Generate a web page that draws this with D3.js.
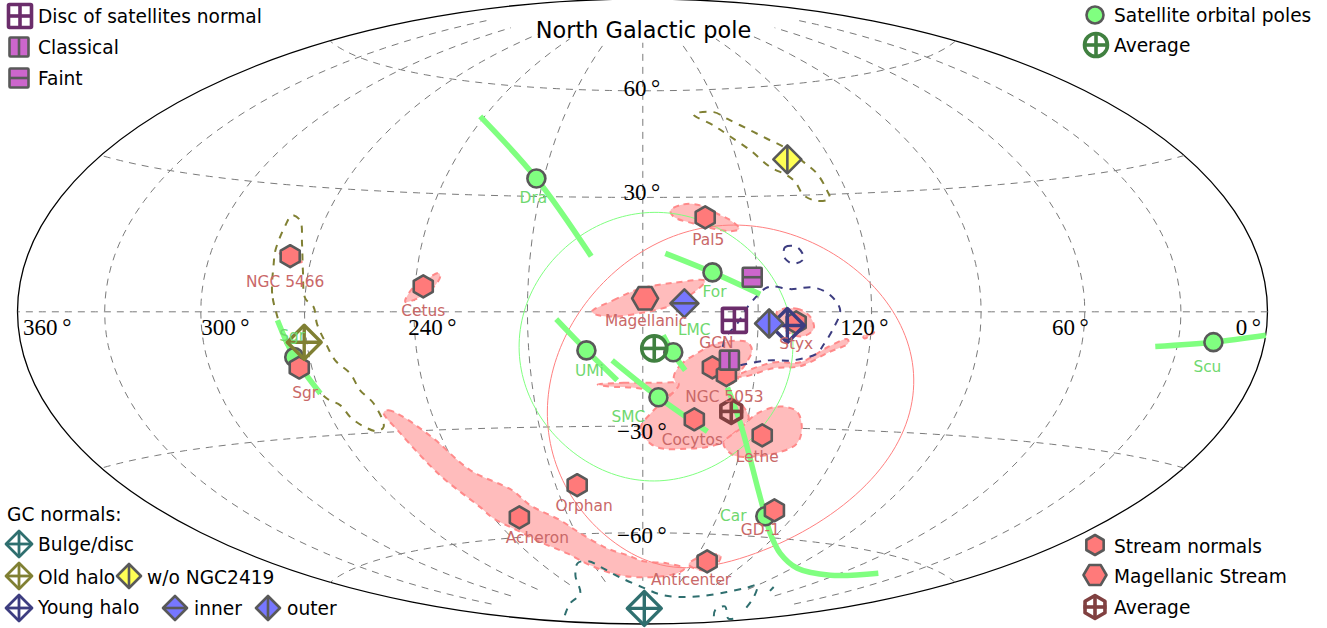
<!DOCTYPE html>
<html><head><meta charset="utf-8">
<script src="https://cdn.jsdelivr.net/npm/d3@7"></script>
<style>html,body{margin:0;background:#fff}svg{display:block}text{font-family:"DejaVu Sans";}</style>
</head><body><svg id="c" width="1327" height="628"></svg>
<script>
// ---------- data: galactic longitude / latitude in degrees ----------
const satelliteNames=["Dra","For","UMi","LMC","SMC","Car","Scu","Sgr"];
const satellitePoles=[[212.2,34.8],[161.7,10.2],[194.8,-10],[172,-10.5],[175.7,-22.3],[131.1,-54.1],[18.2,-6],[274.3,-10.8]];
const satelliteAverage=[177,-9.5];
const satelliteArcs=[
 [[241.6,50.9],[212.2,34.8],[193.7,14.4]],
 [[174,15.2],[161.7,10.2],[149.4,4.5]],
 [[202.5,-1.9],[194.8,-10],[186.9,-17.8]],
 [[174.7,-6.1],[172,-10.8],[168.7,-15.2]],
 [[188.1,-12.6],[175.7,-22.3],[161.1,-31.3]],
 [[157,-19.6],[151.9,-29],[139.4,-47],[131.1,-54.1],[123.3,-58.8],[108.3,-64.1],[87.3,-67.4],[62.5,-67.4],[42.6,-64.2]],
 [[37.1,-7.3],[18.2,-6],[0.1,-4.3]],
 [[277.7,-2],[274.3,-10.8],[270,-19.7]]];
const streamNames=["Pal5","NGC 5466","Cetus","Magellanic","Styx","GCN","NGC 5053","Cocytos","Lethe","Orphan","Acheron","GD-1","Anticenter","Sgr"];
const streamNormals=[[162.6,24.6],[276.2,13.2],[237.8,6.4],[179.4,3.5],[140,-2.7],[161.5,-14.4],[157.6,-16.4],[165.3,-28.1],[144.7,-32.1],[202.6,-46],[229.6,-54.4],[129.2,-52.3],[142.4,-68.2],[273.6,-13.3]];
const streamAverage=[155.1,-25.9];
const discNormal=[156.2,-2.2];
const discClassical=[157.1,-12.5];
const discFaint=[151.3,8.9];
const gcBulge=[177.1,-84.3];
const gcOldHalo=[270.7,-7.3];
const gcOldNo2419=[133.8,39.6];
const gcYoungHalo=[142.3,-3.5];
const gcInner=[169.2,2.2];
const gcOuter=[147.1,-3];
const satelliteSpreadCentre=[176.5,-9.5], satelliteSpread=35.5;
const streamSpreadCentre=[155.3,-24], streamSpread=46.5;

const contourBulge=[
 [[323.6,-82.3],[273.8,-80.3],[243,-78],[227.5,-72.4],[218.8,-68.7],[211.7,-68.3],[205.3,-70.8],[196.8,-73.8],[179.2,-77.3],[161,-79.4],[140.6,-79.9],[117.3,-79],[101.3,-76.7],[93.4,-74.6],[90.2,-73.5],[71.5,-76.5],[38.4,-79.9]],
 [[36.4,-83],[63.5,-81.9],[68.9,-80.4],[14.3,-82],[14.8,-81.2]],
 [[72.7,-74.2],[77,-73.1]]];
const contourOldHalo=[[277.8,-0.8],[279.4,4.3],[280.4,11.3],[281,14.5],[280.9,20.5],[280.4,22.9],[277.2,21.8],[273.9,16.3],[271.6,9.9],[269.9,3.2],[267.5,1.2],[266.6,-2.9],[264.8,-7.3],[262.9,-11.8],[259.6,-15.1],[258.2,-19.3],[255.7,-22.7],[255.8,-28.6],[258.5,-29.6],[262.1,-28],[264.3,-25.8],[265.6,-22.8],[268.7,-21],[272.2,-15.6],[275.8,-8.3]];
const contourNo2419=[[160.4,52.9],[152.3,53.4],[148.3,51.4],[142.6,48.4],[137.3,45.4],[132.3,42.5],[129,38.7],[126.5,35.5],[125.7,31.1],[125.8,28.9],[129.8,28.4],[133.1,30],[134.2,33.5],[136,35.4],[140.2,37.7],[144.6,42.4],[150.1,46.7],[154.2,49.6]];
const contourYoungA=[[142.3,15.4],[141.7,16.6],[138.5,16.6],[137.1,13.6],[140,12.3],[142.1,13.6]];
const contourYoungB=[[154.1,-13.8],[147,-12.5],[140.1,-12.4],[133.9,-10.6],[132.5,-8.5],[130.1,-4.2],[128.4,0.4],[130.9,4.2],[135.3,6.2],[141.4,5.8],[145.9,6.5],[148,6],[152.8,1.2],[155.4,-3],[158.5,-6.8],[159.1,-10]];

const streamRegions=[
 [[172.2,26.5],[168.4,28.1],[163.6,27.8],[159.2,25.6],[155.7,23.8],[153.5,21.5],[156.1,20.9],[160.6,21.6],[166,23],[171.4,24.8]],
 [[193.2,0],[187.6,3],[180.7,6],[172,7.5],[163.7,8],[167.7,4.3],[172,1.8],[178.9,0],[186.7,-1.2],[191.5,-0.9]],
 [[242.4,2.5],[240.4,6.2],[237,8.3],[234,9.8],[233.5,8.8],[235.4,5.8],[238.4,3.7]],
 [[279.9,14.1],[276.2,13.4],[272.4,11.9],[275.3,11.9]],
 [[145.1,0],[139.8,0.8],[136.3,-1.3],[135.3,-4.3],[137.9,-6.2],[141.4,-5.6],[144.2,-3]],
 [[171.7,-16.9],[170.1,-13.9],[165.8,-10.8],[160.6,-8.2],[152.7,-7.8],[151.3,-9.9],[152.4,-12.9],[153.9,-15.5],[154.6,-17.7],[157.1,-19.5],[155.5,-22.1],[151.8,-24.7],[149.8,-27.7],[152.5,-30.9],[155.8,-34.1],[160.5,-35.5],[166.5,-36],[173.6,-36.1],[177.7,-34.7],[180.7,-30.7],[177,-25.8],[172.9,-22.2],[170.7,-19.6]],
 [[192.2,-18.9],[185.2,-18.5],[176.2,-18.5],[170.3,-18.7],[171.1,-20.4],[173.4,-21.8],[180.7,-20],[189.7,-19.4]],
 [[154.9,-16.7],[145.4,-13],[138.1,-12.9],[131.3,-9],[126.2,-6.9],[125.8,-7.9],[130.9,-10.3],[138,-13.9],[145.2,-14.5],[152.5,-16.7]],
 [[122.1,-5.9],[119.6,-5.6],[119.1,-5.1],[121.6,-6.7]],
 [[155.7,-34.5],[151.6,-30.4],[147.7,-26.4],[141.5,-24.4],[136.4,-25.7],[133.6,-30.1],[133.5,-34],[137.6,-36.4],[145.4,-37.8],[151.8,-37.6]],
 [[152.1,-69.4],[148,-67],[137.9,-66.1],[135.6,-68.1],[140.1,-71]],
 [[253.9,-25],[252.2,-24.5],[249.3,-25.9],[242.6,-32.1],[236.2,-40.9],[225.9,-46.8],[222.4,-51.2],[213.9,-55.8],[208.1,-59.8],[198.2,-64.6],[188.5,-66.8],[179.7,-68.7],[165.2,-69.3],[153.3,-70.7],[156.1,-72.3],[174.4,-73.8],[196.2,-73.1],[212.3,-69.6],[220.3,-65.6],[228.1,-62.2],[234.7,-58],[240.2,-54.2],[241.6,-50.9],[247.2,-41.8],[251.8,-30.4]]];

const lonTicks=[360,300,240,120,60,0];
const latTicks=[60,30,-30,-60];
const titleText="North Galactic pole";

// ---------- placement and style ----------
const satLabelShift=[[-3,20],[2,20],[3,21],[21,-22],[-30,20],[-32,0],[-6,25],[-2,-21]];
const streamLabelShift=[[3,23],[-5,26],[0,25],[1,23],[0,22],[4,-24],[-2,22],[-2,21],[-5,22],[7,21],[18,21],[-14,20],[-16,19],[6,25]];
const lonTickShift=[29.5,24.5,18.3,-7.3,-14.5,-19.5];
const latTickShift=[-2.5,-5,5,2.5];
const C={grey:"#595959",pink:"#ffbcbc",pinkEdge:"#ff8a8a",green:"#80ff80",red:"#ff7a7a",purple:"#cc66cc",blue:"#7777ff",yellow:"#ffff55",
 disc:"#6b2d6b",teal:"#2f6f6f",olive:"#808033",navy:"#3d3d80",avgG:"#408040",avgR:"#804040",redText:"#c96868",greenText:"#6fd86f"};

function hammerRaw(l,p){const d=Math.sqrt(1+Math.cos(p)*Math.cos(l/2));
 return [2*Math.SQRT2*Math.cos(p)*Math.sin(l/2)/d,Math.SQRT2*Math.sin(p)/d];}
const projection=d3.geoProjection(hammerRaw).rotate([-180,0]).reflectX(true).scale(221).translate([642.8,311.8]).precision(.1);
const geo=d3.geoPath(projection);
const svg=d3.select("#c");

function px(d){return projection([Math.min(359.999,Math.max(0.001,d[0])),d[1]]);}
const closed=d3.line().x(d=>px(d)[0]).y(d=>px(d)[1]).curve(d3.curveCatmullRomClosed.alpha(.5));
const open=d3.line().x(d=>px(d)[0]).y(d=>px(d)[1]).curve(d3.curveCatmullRom.alpha(.5));

// frame
svg.append("ellipse").attr("cx",642.5).attr("cy",311.5).attr("rx",625).attr("ry",312.5).attr("fill","#fff").attr("stroke","#000").attr("stroke-width",1.3);

// graticule
const grid=svg.append("g").attr("fill","none").attr("stroke","#7a7a7a").attr("stroke-width",1).attr("stroke-dasharray","7,6");
d3.range(30,360,30).forEach(l=>grid.append("path").attr("d",geo({type:"LineString",coordinates:[[l,-75],[l,-37],[l,0],[l,37],[l,75]]})));
[-60,-30,0,30,60].forEach(b=>grid.append("path").attr("d",geo({type:"LineString",coordinates:d3.range(0.01,360,3).concat(359.99).map(l=>[l,b])})));

// regions
svg.append("g").selectAll("path").data(streamRegions).join("path").attr("d",closed)
 .attr("fill",C.pink).attr("stroke",C.pinkEdge).attr("stroke-width",2).attr("stroke-dasharray","6,5");

// spread circles
const circle=d3.geoCircle();
svg.append("path").attr("d",geo(circle.center(satelliteSpreadCentre).radius(satelliteSpread)())).attr("fill","none").attr("stroke",C.green).attr("stroke-width",1);
svg.append("path").attr("d",geo(circle.center(streamSpreadCentre).radius(streamSpread)())).attr("fill","none").attr("stroke","#ff8080").attr("stroke-width",1);

// contours
const dash=(d,col)=>svg.append("path").attr("d",d).attr("fill","none").attr("stroke",col).attr("stroke-width",2).attr("stroke-dasharray","7,7");
contourBulge.forEach(c=>dash(open(c),C.teal));
dash(closed(contourOldHalo),C.olive);
dash(closed(contourNo2419),C.olive);
dash(closed(contourYoungA),C.navy);
dash(open(contourYoungB),C.navy);

// satellite uncertainty arcs
svg.append("g").selectAll("path").data(satelliteArcs).join("path").attr("d",open).attr("fill","none").attr("stroke",C.green).attr("stroke-width",5.5);

// marker drawing
function marker(g,x,y,kind,r,o){
 const n=g.append("g").attr("transform",`translate(${x},${y})`).attr("fill",o.fill||"none").attr("stroke",o.stroke).attr("stroke-width",o.sw).attr("stroke-linejoin","round");
 if(kind==="circle") n.append("circle").attr("r",r);
 if(kind==="square") n.append("rect").attr("x",-r).attr("y",-r).attr("width",2*r).attr("height",2*r).attr("rx",1);
 if(kind==="diamond") n.append("path").attr("d",`M0,${-r}L${r},0L0,${r}L${-r},0Z`);
 if(kind==="hex"||kind==="Hex"){const a=kind==="hex"?-90:0;
  n.append("path").attr("d",d3.line()(d3.range(6).map(i=>{const t=(a+60*i)*Math.PI/180;return [r*Math.cos(t),r*Math.sin(t)];}))+"Z");}
 if(o.bar==="h"||o.bar==="+") n.append("line").attr("x1",-r).attr("x2",r);
 if(o.bar==="v"||o.bar==="+") n.append("line").attr("y1",-r).attr("y2",r);
}
const M={
 sat:{fill:C.green,stroke:C.grey,sw:2.6},
 stream:{fill:C.red,stroke:C.grey,sw:2.6},
 avgG:{stroke:C.avgG,sw:3.6,bar:"+"},
 avgR:{stroke:C.avgR,sw:3.6,bar:"+"},
 disc:{stroke:C.disc,sw:3.6,bar:"+"},
 cls:{fill:C.purple,stroke:C.grey,sw:2.6,bar:"v"},
 fnt:{fill:C.purple,stroke:C.grey,sw:2.6,bar:"h"},
 bulge:{stroke:C.teal,sw:3.4,bar:"+"},
 old:{stroke:C.olive,sw:3.4,bar:"+"},
 young:{stroke:C.navy,sw:3.4,bar:"+"},
 yel:{fill:C.yellow,stroke:C.grey,sw:2.6,bar:"v"},
 inn:{fill:C.blue,stroke:C.grey,sw:2.6,bar:"h"},
 out:{fill:C.blue,stroke:C.grey,sw:2.6,bar:"v"}};
const mk=svg.append("g");
const at=(d,kind,r,o)=>{const p=px(d);marker(mk,p[0],p[1],kind,r,o);};

satellitePoles.forEach(d=>at(d,"circle",9,M.sat));
at(satelliteAverage,"circle",12.5,M.avgG);
streamNormals.forEach((d,i)=>at(d,streamNames[i]==="Magellanic"?"Hex":"hex",streamNames[i]==="Magellanic"?13:11,M.stream));
at(streamAverage,"hex",12,M.avgR);
at(discNormal,"square",12,M.disc);
at(discClassical,"square",9.5,M.cls);
at(discFaint,"square",9.5,M.fnt);
at(gcBulge,"diamond",17,M.bulge);
at(gcOldHalo,"diamond",17,M.old);
at(gcYoungHalo,"diamond",17,M.young);
at(gcOldNo2419,"diamond",14,M.yel);
at(gcInner,"diamond",14,M.inn);
at(gcOuter,"diamond",14,M.out);

// value labels
const lab=svg.append("g").attr("font-size",15.4).attr("text-anchor","middle").attr("dominant-baseline","central");
satellitePoles.forEach((d,i)=>{const p=px(d);lab.append("text").attr("x",p[0]+satLabelShift[i][0]).attr("y",p[1]+satLabelShift[i][1]).attr("fill",C.greenText).text(satelliteNames[i]);});
streamNormals.forEach((d,i)=>{const p=px(d);lab.append("text").attr("x",p[0]+streamLabelShift[i][0]).attr("y",p[1]+streamLabelShift[i][1]).attr("fill",C.redText).text(streamNames[i]);});

// tick labels
const tk=svg.append("g").attr("font-size",23).attr("text-anchor","middle").attr("dominant-baseline","central").attr("fill","#000");
lonTicks.forEach((t,i)=>{const p=px([t,0]);tk.append("text").attr("x",p[0]+lonTickShift[i]).attr("y",p[1]+16).style("font-family","'Liberation Serif'").text(t+"\u2009°");});
latTicks.forEach((t,i)=>{const p=px([180,t]);tk.append("text").attr("x",p[0]-1).attr("y",p[1]+latTickShift[i]).style("font-family","'Liberation Serif'").text((t<0?"\u2212":"")+Math.abs(t)+"\u2009°");});

// title
svg.append("text").attr("x",643.5).attr("y",30).attr("text-anchor","middle").attr("dominant-baseline","central").attr("font-size",22.4).text(titleText);

// legends
const leg=svg.append("g");
const T=(x,y,s)=>leg.append("text").attr("x",x).attr("y",y).attr("dominant-baseline","central").attr("font-size",18.6).text(s);
marker(leg,20,16,"square",11.5,M.disc); T(38,16,"Disc of satellites normal");
marker(leg,19,47,"square",9.5,M.cls); T(38,47,"Classical");
marker(leg,19,78,"square",9.5,M.fnt); T(38,78,"Faint");
marker(leg,1095,15,"circle",8.5,M.sat); T(1114,15,"Satellite orbital poles");
marker(leg,1096,45,"circle",11.5,M.avgG); T(1114,45,"Average");
T(7,514,"GC normals:");
marker(leg,19,544,"diamond",13,{...M.bulge,sw:2.8}); T(38,544,"Bulge/disc");
marker(leg,19,576,"diamond",13,{...M.old,sw:2.8}); T(38,577,"Old halo");
marker(leg,129,576,"diamond",12,M.yel); T(147,577,"w/o NGC2419");
marker(leg,19,608,"diamond",13,{...M.young,sw:2.8}); T(38,607,"Young halo");
marker(leg,175,608,"diamond",12,M.inn); T(194,608,"inner");
marker(leg,268,608,"diamond",12,M.out); T(287,608,"outer");
marker(leg,1095,545,"hex",10,M.stream); T(1114,546,"Stream normals");
marker(leg,1095,575,"Hex",11.5,M.stream); T(1114,576,"Magellanic Stream");
marker(leg,1095,607,"hex",11.5,M.avgR); T(1114,607,"Average");
</script></body></html>
